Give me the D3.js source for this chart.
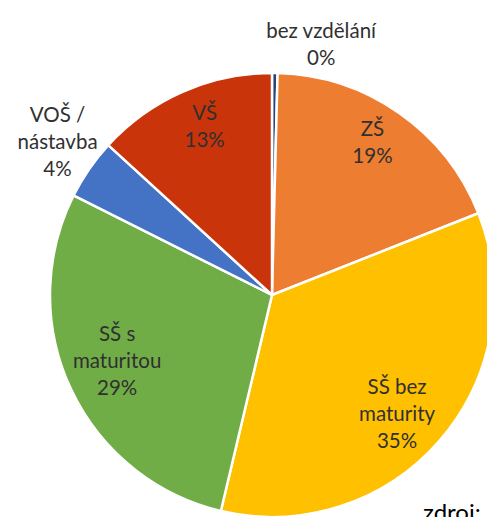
<!DOCTYPE html>
<html>
<head>
<meta charset="utf-8">
<script src="https://cdn.jsdelivr.net/npm/d3@7"></script>
<style>
  body { margin: 0; background: #fff; }
  svg { display: block; }
</style>
</head>
<body>
<div id="chart"></div>
<script>
// podíly podle vzdělání (v %)
const categories = ["bez vzdělání", "ZŠ", "SŠ bez maturity", "SŠ s maturitou", "VOŠ / nástavba", "VŠ"];
const values = [0.4, 18.6, 34.7, 28.7, 4.4, 13.2];
const percentLabels = ["0%", "19%", "35%", "29%", "4%", "13%"];
const labelLines = [["bez vzdělání"], ["ZŠ"], ["SŠ bez", "maturity"], ["SŠ s", "maturitou"], ["VOŠ /", "nástavba"], ["VŠ"]];
const colors = ["#264478", "#ED7D31", "#FFC000", "#70AD47", "#4472C4", "#CA340A"];

const width = 487, height = 517;
const cx = 272, cy = 295, radius = 222;

// label placement: radius along slice middle + small nudge (Excel "best fit" look)
const labelLayout = {
    "bez vzdělání":    { r: 250, dx: 46, dy: -1 },
    "ZŠ":              { r: 172, dx: 2, dy: -11 },
    "SŠ bez maturity": { r: 172, dx: -5, dy: 6 },
    "SŠ s maturitou":  { r: 172, dx: 1, dy: -7 },
    "VOŠ / nástavba":  { r: 258, dx: -2, dy: -7 },
    "VŠ":              { r: 172, dx: 2, dy: -11 }
};

const data = categories.map((c, i) => ({ name: c, value: values[i], pct: percentLabels[i], lines: labelLines[i], color: colors[i] }));

const svg = d3.select("#chart")
    .append("svg")
    .attr("width", width)
    .attr("height", height);

const g = svg.append("g")
    .attr("transform", "translate(" + cx + "," + cy + ")");

const pie = d3.pie()
    .sort(null)
    .value(function (d) { return d.value; });

const arc = d3.arc()
    .innerRadius(0)
    .outerRadius(radius);

const arcs = pie(data);

g.selectAll("path")
    .data(arcs)
    .enter()
    .append("path")
    .attr("d", arc)
    .attr("fill", function (d) { return d.data.color; })
    .attr("stroke", "#fff")
    .attr("stroke-width", 2.5)
    .attr("stroke-linejoin", "round");

const lineH = 27;

const labels = g.selectAll("text.lbl")
    .data(arcs)
    .enter()
    .append("text")
    .attr("class", "lbl")
    .attr("text-anchor", "middle")
    .style("font-family", "Lato, 'Open Sans', sans-serif")
    .style("font-size", "20.5px")
    .style("fill", "#303030")
    .attr("transform", function (d) {
        const L = labelLayout[d.data.name];
        const a = (d.startAngle + d.endAngle) / 2;
        const x = Math.sin(a) * L.r + L.dx;
        const y = -Math.cos(a) * L.r + L.dy;
        return "translate(" + x + "," + y + ")";
    });

labels.each(function (d) {
    const lines = d.data.lines.concat([d.data.pct]);
    const t = d3.select(this);
    const top = -((lines.length - 1) * lineH) / 2 + 7;
    lines.forEach(function (s, i) {
        t.append("tspan")
            .attr("x", 0)
            .attr("y", top + i * lineH)
            .text(s);
    });
});

// zdroj (oříznuto spodním okrajem)
svg.append("text")
    .attr("x", 423)
    .attr("y", 521)
    .style("font-family", "Lato, 'Open Sans', sans-serif")
    .style("font-size", "24px")
    .style("fill", "#000")
    .text("zdroj:");
</script>
</body>
</html>
